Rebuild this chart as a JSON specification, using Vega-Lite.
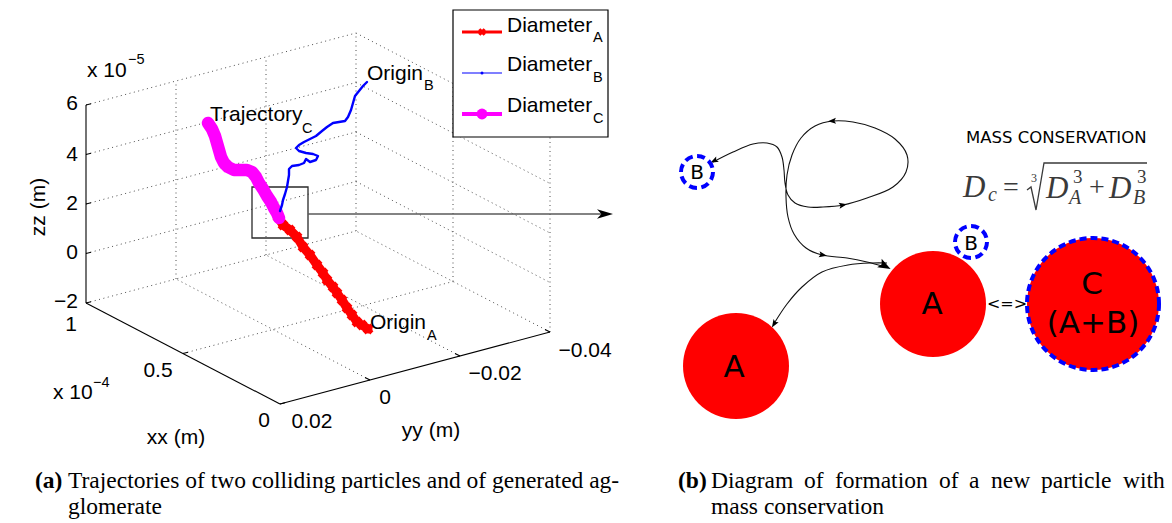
{
  "$schema": "https://vega.github.io/schema/vega-lite/v6.json",
  "width": 1172,
  "height": 523,
  "autosize": {"type": "fit", "contains": "padding"},
  "padding": 0,
  "background": "white",
  "config": {"view": {"stroke": null}},
  "datasets": {
    "grid": [
      {"h": 183, "v": 353.5, "h2": 453, "v2": 281.5},
      {"h": 86, "v": 303, "h2": 356, "v2": 231},
      {"h": 370, "v": 380, "h2": 176, "v2": 279},
      {"h": 460, "v": 356, "h2": 266, "v2": 255},
      {"h": 550, "v": 332, "h2": 356, "v2": 231},
      {"h": 86, "v": 253.5, "h2": 356, "v2": 181.5},
      {"h": 86, "v": 204, "h2": 356, "v2": 132},
      {"h": 86, "v": 154.5, "h2": 356, "v2": 82.5},
      {"h": 86, "v": 105, "h2": 356, "v2": 33},
      {"h": 176, "v": 279, "h2": 176, "v2": 81},
      {"h": 266, "v": 255, "h2": 266, "v2": 57},
      {"h": 356, "v": 231, "h2": 356, "v2": 33},
      {"h": 356, "v": 181.5, "h2": 550, "v2": 282.5},
      {"h": 356, "v": 132, "h2": 550, "v2": 233},
      {"h": 356, "v": 82.5, "h2": 550, "v2": 183.5},
      {"h": 356, "v": 33, "h2": 550, "v2": 134},
      {"h": 453, "v": 281.5, "h2": 453, "v2": 83.5},
      {"h": 550, "v": 332, "h2": 550, "v2": 134}
    ],
    "axes": [
      {"h": 86, "v": 105, "h2": 86, "v2": 303},
      {"h": 86, "v": 303, "h2": 280, "v2": 404},
      {"h": 280, "v": 404, "h2": 550, "v2": 332},
      {"h": 86, "v": 105, "h2": 91, "v2": 103.7},
      {"h": 86, "v": 154.5, "h2": 91, "v2": 153.2},
      {"h": 86, "v": 204, "h2": 91, "v2": 202.7},
      {"h": 86, "v": 253.5, "h2": 91, "v2": 252.2},
      {"h": 86, "v": 303, "h2": 91, "v2": 301.7},
      {"h": 183, "v": 353.5, "h2": 188, "v2": 352.2},
      {"h": 280, "v": 404, "h2": 285, "v2": 402.7},
      {"h": 370, "v": 380, "h2": 365, "v2": 377.4},
      {"h": 460, "v": 356, "h2": 455, "v2": 353.4},
      {"h": 550, "v": 332, "h2": 545, "v2": 329.4}
    ],
    "zoombox": [{"h": 252, "v": 187, "h2": 308, "v2": 238}],
    "pointer": [{"h": 308, "v": 214, "h2": 602, "v2": 214}],
    "pointerHead": [{"h": 605, "v": 214}],
    "traj": [
      {"s": "A", "i": 0, "h": 278, "v": 217},
      {"s": "A", "i": 1, "h": 283, "v": 225},
      {"s": "A", "i": 2, "h": 290, "v": 230},
      {"s": "A", "i": 3, "h": 297, "v": 237},
      {"s": "A", "i": 4, "h": 303, "v": 247},
      {"s": "A", "i": 5, "h": 310, "v": 255},
      {"s": "A", "i": 6, "h": 317, "v": 265},
      {"s": "A", "i": 7, "h": 323, "v": 273},
      {"s": "A", "i": 8, "h": 327, "v": 280},
      {"s": "A", "i": 9, "h": 333, "v": 287},
      {"s": "A", "i": 10, "h": 337, "v": 293},
      {"s": "A", "i": 11, "h": 342, "v": 300},
      {"s": "A", "i": 12, "h": 347, "v": 308},
      {"s": "A", "i": 13, "h": 352, "v": 315},
      {"s": "A", "i": 14, "h": 357, "v": 322},
      {"s": "A", "i": 15, "h": 362, "v": 325},
      {"s": "A", "i": 16, "h": 368, "v": 329},
      {"s": "C", "i": 0, "h": 208, "v": 123},
      {"s": "C", "i": 1, "h": 212, "v": 129},
      {"s": "C", "i": 2, "h": 215, "v": 136},
      {"s": "C", "i": 3, "h": 217, "v": 143},
      {"s": "C", "i": 4, "h": 219, "v": 150},
      {"s": "C", "i": 5, "h": 221, "v": 157},
      {"s": "C", "i": 6, "h": 224, "v": 163},
      {"s": "C", "i": 7, "h": 228, "v": 167},
      {"s": "C", "i": 8, "h": 234, "v": 170},
      {"s": "C", "i": 9, "h": 241, "v": 170},
      {"s": "C", "i": 10, "h": 247, "v": 170},
      {"s": "C", "i": 11, "h": 252, "v": 172},
      {"s": "C", "i": 12, "h": 256, "v": 177},
      {"s": "C", "i": 13, "h": 259, "v": 183},
      {"s": "C", "i": 14, "h": 263, "v": 189},
      {"s": "C", "i": 15, "h": 267, "v": 196},
      {"s": "C", "i": 16, "h": 271, "v": 202},
      {"s": "C", "i": 17, "h": 274, "v": 208},
      {"s": "C", "i": 18, "h": 277, "v": 213},
      {"s": "C", "i": 19, "h": 279, "v": 218},
      {"s": "B", "i": 0, "h": 367, "v": 82},
      {"s": "B", "i": 1, "h": 363, "v": 86},
      {"s": "B", "i": 2, "h": 359, "v": 91},
      {"s": "B", "i": 3, "h": 355, "v": 96},
      {"s": "B", "i": 4, "h": 353, "v": 103},
      {"s": "B", "i": 5, "h": 351, "v": 110},
      {"s": "B", "i": 6, "h": 348, "v": 117},
      {"s": "B", "i": 7, "h": 345, "v": 121},
      {"s": "B", "i": 8, "h": 339, "v": 122},
      {"s": "B", "i": 9, "h": 333, "v": 123},
      {"s": "B", "i": 10, "h": 327, "v": 127},
      {"s": "B", "i": 11, "h": 322, "v": 131},
      {"s": "B", "i": 12, "h": 316, "v": 136},
      {"s": "B", "i": 13, "h": 310, "v": 139},
      {"s": "B", "i": 14, "h": 304, "v": 142},
      {"s": "B", "i": 15, "h": 299, "v": 145},
      {"s": "B", "i": 16, "h": 296, "v": 148},
      {"s": "B", "i": 17, "h": 299, "v": 151},
      {"s": "B", "i": 18, "h": 306, "v": 153},
      {"s": "B", "i": 19, "h": 313, "v": 154},
      {"s": "B", "i": 20, "h": 318, "v": 156},
      {"s": "B", "i": 21, "h": 316, "v": 160},
      {"s": "B", "i": 22, "h": 310, "v": 162},
      {"s": "B", "i": 23, "h": 306, "v": 159},
      {"s": "B", "i": 24, "h": 304, "v": 163},
      {"s": "B", "i": 25, "h": 299, "v": 165},
      {"s": "B", "i": 26, "h": 292, "v": 166},
      {"s": "B", "i": 27, "h": 289, "v": 169},
      {"s": "B", "i": 28, "h": 289, "v": 175},
      {"s": "B", "i": 29, "h": 288, "v": 181},
      {"s": "B", "i": 30, "h": 287, "v": 187},
      {"s": "B", "i": 31, "h": 285, "v": 194},
      {"s": "B", "i": 32, "h": 283, "v": 200},
      {"s": "B", "i": 33, "h": 282, "v": 205},
      {"s": "B", "i": 34, "h": 280, "v": 211}
    ],
    "legendBox": [{"h": 453, "v": 10, "h2": 608, "v2": 137}],
    "legendKey": [
      {"s": "A", "h": 462, "h2": 502, "v": 32, "hm": 482},
      {"s": "B", "h": 462, "h2": 502, "v": 73, "hm": 482},
      {"s": "C", "h": 462, "h2": 502, "v": 114, "hm": 482}
    ],
    "paths": [
      {"seg": "loop", "i": 0, "h": 713, "v": 162},
      {"seg": "loop", "i": 1, "h": 733, "v": 152},
      {"seg": "loop", "i": 2, "h": 753, "v": 144},
      {"seg": "loop", "i": 3, "h": 767, "v": 143},
      {"seg": "loop", "i": 4, "h": 777, "v": 147},
      {"seg": "loop", "i": 5, "h": 782, "v": 157},
      {"seg": "loop", "i": 6, "h": 784, "v": 170},
      {"seg": "loop", "i": 7, "h": 785, "v": 183},
      {"seg": "loop", "i": 8, "h": 788, "v": 195},
      {"seg": "loop", "i": 9, "h": 795, "v": 203},
      {"seg": "loop", "i": 10, "h": 808, "v": 207},
      {"seg": "loop", "i": 11, "h": 823, "v": 207},
      {"seg": "loop", "i": 12, "h": 843, "v": 205},
      {"seg": "loop", "i": 13, "h": 867, "v": 198},
      {"seg": "loop", "i": 14, "h": 893, "v": 187},
      {"seg": "loop", "i": 15, "h": 906, "v": 172},
      {"seg": "loop", "i": 16, "h": 907, "v": 155},
      {"seg": "loop", "i": 17, "h": 895, "v": 139},
      {"seg": "loop", "i": 18, "h": 875, "v": 128},
      {"seg": "loop", "i": 19, "h": 853, "v": 122},
      {"seg": "loop", "i": 20, "h": 833, "v": 121},
      {"seg": "loop", "i": 21, "h": 815, "v": 126},
      {"seg": "loop", "i": 22, "h": 801, "v": 138},
      {"seg": "loop", "i": 23, "h": 792, "v": 155},
      {"seg": "loop", "i": 24, "h": 787, "v": 175},
      {"seg": "loop", "i": 25, "h": 786, "v": 197},
      {"seg": "loop", "i": 26, "h": 788, "v": 217},
      {"seg": "loop", "i": 27, "h": 794, "v": 234},
      {"seg": "loop", "i": 28, "h": 806, "v": 248},
      {"seg": "loop", "i": 29, "h": 822, "v": 255},
      {"seg": "loop", "i": 30, "h": 847, "v": 258},
      {"seg": "loop", "i": 31, "h": 867, "v": 262},
      {"seg": "loop", "i": 32, "h": 885, "v": 267},
      {"seg": "toA", "i": 0, "h": 887, "v": 263},
      {"seg": "toA", "i": 1, "h": 872, "v": 263},
      {"seg": "toA", "i": 2, "h": 848, "v": 265},
      {"seg": "toA", "i": 3, "h": 822, "v": 272},
      {"seg": "toA", "i": 4, "h": 802, "v": 287},
      {"seg": "toA", "i": 5, "h": 787, "v": 304},
      {"seg": "toA", "i": 6, "h": 775, "v": 322}
    ],
    "heads": [
      {"h": 714, "v": 161, "deg": 153, "big": false},
      {"h": 843, "v": 205, "deg": 349, "big": false},
      {"h": 832, "v": 121, "deg": 178, "big": false},
      {"h": 823, "v": 255, "deg": 10, "big": false},
      {"h": 774, "v": 324, "deg": 122, "big": false},
      {"h": 885, "v": 266, "deg": 28, "big": true}
    ],
    "particles": [
      {"p": "A", "kind": "solid", "h": 736, "v": 366, "d": 106},
      {"p": "A", "kind": "solid", "h": 933, "v": 304, "d": 106},
      {"p": "C", "kind": "merged", "h": 1093, "v": 304, "d": 132},
      {"p": "B", "kind": "small", "h": 697, "v": 172, "d": 32},
      {"p": "B", "kind": "small", "h": 971, "v": 242, "d": 32}
    ],
    "radical": [
      {"i": 0, "h": 1027, "v": 190},
      {"i": 1, "h": 1031, "v": 187},
      {"i": 2, "h": 1036, "v": 210},
      {"i": 3, "h": 1044, "v": 163},
      {"i": 4, "h": 1147, "v": 163}
    ],
    "labels": [
      {"g": "mat", "h": 367, "v": 80, "t": "Origin"},
      {"g": "mat", "h": 370, "v": 329, "t": "Origin"},
      {"g": "mat", "h": 210, "v": 121, "t": "Trajectory"},
      {"g": "mat", "h": 507, "v": 32, "t": "Diameter"},
      {"g": "mat", "h": 507, "v": 71, "t": "Diameter"},
      {"g": "mat", "h": 507, "v": 112, "t": "Diameter"},
      {"g": "mat", "h": 87, "v": 77, "t": "x 10"},
      {"g": "mat", "h": 53, "v": 399, "t": "x 10"},
      {"g": "sub", "h": 424, "v": 90, "t": "B"},
      {"g": "sub", "h": 427, "v": 340, "t": "A"},
      {"g": "sub", "h": 302, "v": 133, "t": "C"},
      {"g": "sub", "h": 593, "v": 42, "t": "A"},
      {"g": "sub", "h": 593, "v": 82, "t": "B"},
      {"g": "sub", "h": 593, "v": 123, "t": "C"},
      {"g": "sub", "h": 128, "v": 64, "t": "−5"},
      {"g": "sub", "h": 93, "v": 387, "t": "−4"},
      {"g": "tickR", "h": 78, "v": 110, "t": "6"},
      {"g": "tickR", "h": 78, "v": 161, "t": "4"},
      {"g": "tickR", "h": 78, "v": 210, "t": "2"},
      {"g": "tickR", "h": 78, "v": 259, "t": "0"},
      {"g": "tickR", "h": 78, "v": 308, "t": "−2"},
      {"g": "tickC", "h": 71, "v": 331, "t": "1"},
      {"g": "tickC", "h": 158, "v": 377, "t": "0.5"},
      {"g": "tickC", "h": 264, "v": 427, "t": "0"},
      {"g": "tickC", "h": 312, "v": 428, "t": "0.02"},
      {"g": "tickC", "h": 385, "v": 404, "t": "0"},
      {"g": "tickC", "h": 495, "v": 380, "t": "−0.02"},
      {"g": "tickC", "h": 585, "v": 357, "t": "−0.04"},
      {"g": "tickC", "h": 176, "v": 444, "t": "xx (m)"},
      {"g": "tickC", "h": 431, "v": 437, "t": "yy (m)"},
      {"g": "zlab", "h": 45, "v": 207, "t": "zz (m)"},
      {"g": "dgS", "h": 697, "v": 179, "t": "B"},
      {"g": "dgS", "h": 971, "v": 250, "t": "B"},
      {"g": "dgL", "h": 932, "v": 314, "t": "A"},
      {"g": "dgL", "h": 734, "v": 377, "t": "A"},
      {"g": "dgL", "h": 1092, "v": 294, "t": "C"},
      {"g": "dgL", "h": 1093, "v": 333, "t": "(A+B)"},
      {"g": "dgT", "h": 1007, "v": 309, "t": "<=>"},
      {"g": "mass", "h": 966, "v": 143, "t": "MASS CONSERVATION"},
      {"g": "fxI", "h": 963, "v": 197, "t": "D"},
      {"g": "fxI", "h": 1046, "v": 198, "t": "D"},
      {"g": "fxI", "h": 1109, "v": 198, "t": "D"},
      {"g": "fxIs", "h": 988, "v": 201, "t": "c"},
      {"g": "fxIs", "h": 1069, "v": 204, "t": "A"},
      {"g": "fxIs", "h": 1133, "v": 204, "t": "B"},
      {"g": "fxU", "h": 1003, "v": 196, "t": "="},
      {"g": "fxU", "h": 1089, "v": 196, "t": "+"},
      {"g": "fxUs", "h": 1073, "v": 183, "t": "3"},
      {"g": "fxUs", "h": 1137, "v": 183, "t": "3"},
      {"g": "fxIdx", "h": 1031, "v": 182, "t": "3"},
      {"g": "capB", "h": 35, "v": 488, "t": "(a)"},
      {"g": "capB", "h": 678, "v": 488, "t": "(b)"},
      {"g": "cap", "h": 68, "v": 488, "t": "Trajectories of two colliding particles and of generated ag-"},
      {"g": "cap", "h": 68, "v": 514, "t": "glomerate"},
      {"g": "cap", "h": 711, "v": 488, "t": "Diagram"},
      {"g": "cap", "h": 804, "v": 488, "t": "of"},
      {"g": "cap", "h": 835, "v": 488, "t": "formation"},
      {"g": "cap", "h": 939, "v": 488, "t": "of"},
      {"g": "cap", "h": 969, "v": 488, "t": "a"},
      {"g": "cap", "h": 991, "v": 488, "t": "new"},
      {"g": "cap", "h": 1041, "v": 488, "t": "particle"},
      {"g": "cap", "h": 1123, "v": 488, "t": "with"},
      {"g": "cap", "h": 711, "v": 514, "t": "mass conservation"}
    ]
  },
  "encoding": {
    "x": {"field": "h", "type": "quantitative", "scale": {"domain": [0, 1172], "nice": false, "zero": false}, "axis": null},
    "y": {"field": "v", "type": "quantitative", "scale": {"domain": [0, 523], "reverse": true, "nice": false, "zero": false}, "axis": null}
  },
  "layer": [
    {
      "data": {"name": "grid"},
      "mark": {"type": "rule", "stroke": "#4d4d4d", "strokeWidth": 1, "strokeDash": [1, 3.5]},
      "encoding": {"x2": {"field": "h2"}, "y2": {"field": "v2"}}
    },
    {
      "data": {"name": "axes"},
      "mark": {"type": "rule", "stroke": "#000000", "strokeWidth": 1.1},
      "encoding": {"x2": {"field": "h2"}, "y2": {"field": "v2"}}
    },
    {
      "data": {"name": "zoombox"},
      "mark": {"type": "rect", "fill": null, "fillOpacity": 0, "stroke": "#2a2a2a", "strokeWidth": 1.3},
      "encoding": {"x2": {"field": "h2"}, "y2": {"field": "v2"}}
    },
    {
      "data": {"name": "pointer"},
      "mark": {"type": "rule", "stroke": "#5a5a5a", "strokeWidth": 1.6},
      "encoding": {"x2": {"field": "h2"}, "y2": {"field": "v2"}}
    },
    {
      "data": {"name": "pointerHead"},
      "mark": {"type": "point", "shape": "M 1 0 L -1 -0.6 L -0.45 0 L -1 0.6 Z", "filled": true, "color": "#000000", "size": 256, "opacity": 1},
      "encoding": {}
    },
    {
      "data": {"name": "traj"},
      "transform": [{"filter": "datum.s === 'A'"}],
      "mark": {"type": "line", "stroke": "#ff0000", "strokeWidth": 9, "strokeCap": "round", "strokeJoin": "round"},
      "encoding": {"order": {"field": "i", "type": "quantitative"}}
    },
    {
      "data": {"name": "traj"},
      "transform": [{"filter": "datum.s === 'A'"}],
      "mark": {"type": "point", "shape": "cross", "angle": 45, "filled": true, "color": "#ff0000", "size": 120, "opacity": 1},
      "encoding": {}
    },
    {
      "data": {"name": "traj"},
      "transform": [{"filter": "datum.s === 'C'"}],
      "mark": {"type": "line", "stroke": "#ff00ff", "strokeWidth": 12.5, "strokeCap": "round", "strokeJoin": "round"},
      "encoding": {"order": {"field": "i", "type": "quantitative"}}
    },
    {
      "data": {"name": "traj"},
      "transform": [{"filter": "datum.s === 'B'"}],
      "mark": {"type": "line", "stroke": "#0000ff", "strokeWidth": 2.4, "strokeCap": "round", "strokeJoin": "round", "interpolate": "linear"},
      "encoding": {"order": {"field": "i", "type": "quantitative"}}
    },
    {
      "data": {"name": "legendBox"},
      "mark": {"type": "rect", "fill": "white", "stroke": "#000000", "strokeWidth": 1.2},
      "encoding": {"x2": {"field": "h2"}, "y2": {"field": "v2"}}
    },
    {
      "data": {"name": "legendKey"},
      "transform": [{"filter": "datum.s === 'A'"}],
      "mark": {"type": "rule", "stroke": "#ff0000", "strokeWidth": 3},
      "encoding": {"x2": {"field": "h2"}}
    },
    {
      "data": {"name": "legendKey"},
      "transform": [{"filter": "datum.s === 'A'"}],
      "mark": {"type": "point", "shape": "cross", "angle": 45, "filled": true, "color": "#ff0000", "size": 60, "opacity": 1},
      "encoding": {"x": {"field": "hm", "type": "quantitative"}}
    },
    {
      "data": {"name": "legendKey"},
      "transform": [{"filter": "datum.s === 'B'"}],
      "mark": {"type": "rule", "stroke": "#0000ff", "strokeWidth": 1.2},
      "encoding": {"x2": {"field": "h2"}}
    },
    {
      "data": {"name": "legendKey"},
      "transform": [{"filter": "datum.s === 'B'"}],
      "mark": {"type": "point", "shape": "circle", "filled": true, "color": "#0000ff", "size": 9, "opacity": 1},
      "encoding": {"x": {"field": "hm", "type": "quantitative"}}
    },
    {
      "data": {"name": "legendKey"},
      "transform": [{"filter": "datum.s === 'C'"}],
      "mark": {"type": "rule", "stroke": "#ff00ff", "strokeWidth": 4},
      "encoding": {"x2": {"field": "h2"}}
    },
    {
      "data": {"name": "legendKey"},
      "transform": [{"filter": "datum.s === 'C'"}],
      "mark": {"type": "point", "shape": "circle", "filled": true, "color": "#ff00ff", "size": 120, "opacity": 1},
      "encoding": {"x": {"field": "hm", "type": "quantitative"}}
    },
    {
      "data": {"name": "paths"},
      "mark": {"type": "line", "stroke": "#111111", "strokeWidth": 1.1, "interpolate": "catmull-rom"},
      "encoding": {"order": {"field": "i", "type": "quantitative"}, "detail": {"field": "seg", "type": "nominal"}}
    },
    {
      "data": {"name": "heads"},
      "transform": [{"filter": "!datum.big"}],
      "mark": {"type": "point", "shape": "M 1 0 L -1 -0.75 L -0.6 0 L -1 0.75 Z", "filled": true, "color": "#000000", "opacity": 1, "size": 64},
      "encoding": {"angle": {"field": "deg", "type": "quantitative", "scale": null}}
    },
    {
      "data": {"name": "heads"},
      "transform": [{"filter": "datum.big"}],
      "mark": {"type": "point", "shape": "M 1 0 L -1 -0.75 L -0.6 0 L -1 0.75 Z", "filled": true, "color": "#000000", "opacity": 1, "size": 160},
      "encoding": {"angle": {"field": "deg", "type": "quantitative", "scale": null}}
    },
    {
      "data": {"name": "particles"},
      "transform": [{"filter": "datum.kind !== 'small'"}],
      "mark": {"type": "point", "shape": "circle", "filled": true, "color": "#ff0000", "opacity": 1},
      "encoding": {
        "size": {"field": "d", "type": "quantitative", "scale": {"type": "pow", "exponent": 2, "domain": [0, 100], "range": [0, 10000]}, "legend": null}
      }
    },
    {
      "data": {"name": "particles"},
      "transform": [{"filter": "datum.kind === 'merged'"}],
      "mark": {"type": "point", "shape": "circle", "filled": false, "stroke": "#0000ff", "strokeWidth": 4, "strokeDash": [7, 4], "opacity": 1},
      "encoding": {
        "size": {"field": "d", "type": "quantitative", "scale": {"type": "pow", "exponent": 2, "domain": [0, 100], "range": [0, 10000]}, "legend": null}
      }
    },
    {
      "data": {"name": "particles"},
      "transform": [{"filter": "datum.kind === 'small'"}],
      "mark": {"type": "point", "shape": "circle", "filled": true, "fill": "white", "fillOpacity": 1, "stroke": "#0000ff", "strokeWidth": 4, "strokeOpacity": 1, "strokeDash": [8, 4.5]},
      "encoding": {
        "size": {"field": "d", "type": "quantitative", "scale": {"type": "pow", "exponent": 2, "domain": [0, 100], "range": [0, 10000]}, "legend": null}
      }
    },
    {
      "data": {"name": "radical"},
      "mark": {"type": "line", "stroke": "#3a3a3a", "strokeWidth": 1.3, "strokeJoin": "miter"},
      "encoding": {"order": {"field": "i", "type": "quantitative"}}
    },
    {
      "data": {"name": "labels"},
      "transform": [{"filter": "datum.g === 'mat'"}],
      "mark": {"type": "text", "font": "Liberation Sans", "fontSize": 21, "align": "left", "baseline": "alphabetic", "color": "#000000"},
      "encoding": {"text": {"field": "t"}}
    },
    {
      "data": {"name": "labels"},
      "transform": [{"filter": "datum.g === 'sub'"}],
      "mark": {"type": "text", "font": "Liberation Sans", "fontSize": 14.5, "align": "left", "baseline": "alphabetic", "color": "#000000"},
      "encoding": {"text": {"field": "t"}}
    },
    {
      "data": {"name": "labels"},
      "transform": [{"filter": "datum.g === 'tickR'"}],
      "mark": {"type": "text", "font": "Liberation Sans", "fontSize": 21, "align": "right", "baseline": "alphabetic", "color": "#000000"},
      "encoding": {"text": {"field": "t"}}
    },
    {
      "data": {"name": "labels"},
      "transform": [{"filter": "datum.g === 'tickC'"}],
      "mark": {"type": "text", "font": "Liberation Sans", "fontSize": 21, "align": "center", "baseline": "alphabetic", "color": "#000000"},
      "encoding": {"text": {"field": "t"}}
    },
    {
      "data": {"name": "labels"},
      "transform": [{"filter": "datum.g === 'zlab'"}],
      "mark": {"type": "text", "font": "Liberation Sans", "fontSize": 21, "align": "center", "baseline": "alphabetic", "angle": 270, "color": "#000000"},
      "encoding": {"text": {"field": "t"}}
    },
    {
      "data": {"name": "labels"},
      "transform": [{"filter": "datum.g === 'dgS'"}],
      "mark": {"type": "text", "font": "DejaVu Sans", "fontSize": 20, "align": "center", "baseline": "alphabetic", "color": "#000000"},
      "encoding": {"text": {"field": "t"}}
    },
    {
      "data": {"name": "labels"},
      "transform": [{"filter": "datum.g === 'dgL'"}],
      "mark": {"type": "text", "font": "DejaVu Sans", "fontSize": 31, "align": "center", "baseline": "alphabetic", "color": "#000000"},
      "encoding": {"text": {"field": "t"}}
    },
    {
      "data": {"name": "labels"},
      "transform": [{"filter": "datum.g === 'dgT'"}],
      "mark": {"type": "text", "font": "DejaVu Sans", "fontSize": 16, "align": "center", "baseline": "alphabetic", "color": "#000000"},
      "encoding": {"text": {"field": "t"}}
    },
    {
      "data": {"name": "labels"},
      "transform": [{"filter": "datum.g === 'mass'"}],
      "mark": {"type": "text", "font": "DejaVu Sans", "fontSize": 16.5, "align": "left", "baseline": "alphabetic", "color": "#000000"},
      "encoding": {"text": {"field": "t"}}
    },
    {
      "data": {"name": "labels"},
      "transform": [{"filter": "datum.g === 'fxI'"}],
      "mark": {"type": "text", "font": "Liberation Serif", "fontStyle": "italic", "fontSize": 31, "align": "left", "baseline": "alphabetic", "color": "#3a3a3a"},
      "encoding": {"text": {"field": "t"}}
    },
    {
      "data": {"name": "labels"},
      "transform": [{"filter": "datum.g === 'fxIs'"}],
      "mark": {"type": "text", "font": "Liberation Serif", "fontStyle": "italic", "fontSize": 20, "align": "left", "baseline": "alphabetic", "color": "#3a3a3a"},
      "encoding": {"text": {"field": "t"}}
    },
    {
      "data": {"name": "labels"},
      "transform": [{"filter": "datum.g === 'fxU'"}],
      "mark": {"type": "text", "font": "Liberation Serif", "fontSize": 28, "align": "left", "baseline": "alphabetic", "color": "#3a3a3a"},
      "encoding": {"text": {"field": "t"}}
    },
    {
      "data": {"name": "labels"},
      "transform": [{"filter": "datum.g === 'fxUs'"}],
      "mark": {"type": "text", "font": "Liberation Serif", "fontSize": 19, "align": "left", "baseline": "alphabetic", "color": "#3a3a3a"},
      "encoding": {"text": {"field": "t"}}
    },
    {
      "data": {"name": "labels"},
      "transform": [{"filter": "datum.g === 'fxIdx'"}],
      "mark": {"type": "text", "font": "Liberation Serif", "fontSize": 12, "align": "left", "baseline": "alphabetic", "color": "#3a3a3a"},
      "encoding": {"text": {"field": "t"}}
    },
    {
      "data": {"name": "labels"},
      "transform": [{"filter": "datum.g === 'capB'"}],
      "mark": {"type": "text", "font": "Liberation Serif", "fontWeight": "bold", "fontSize": 23.5, "align": "left", "baseline": "alphabetic", "color": "#000000"},
      "encoding": {"text": {"field": "t"}}
    },
    {
      "data": {"name": "labels"},
      "transform": [{"filter": "datum.g === 'cap'"}],
      "mark": {"type": "text", "font": "Liberation Serif", "fontSize": 23.5, "align": "left", "baseline": "alphabetic", "color": "#000000"},
      "encoding": {"text": {"field": "t"}}
    }
  ]
}
